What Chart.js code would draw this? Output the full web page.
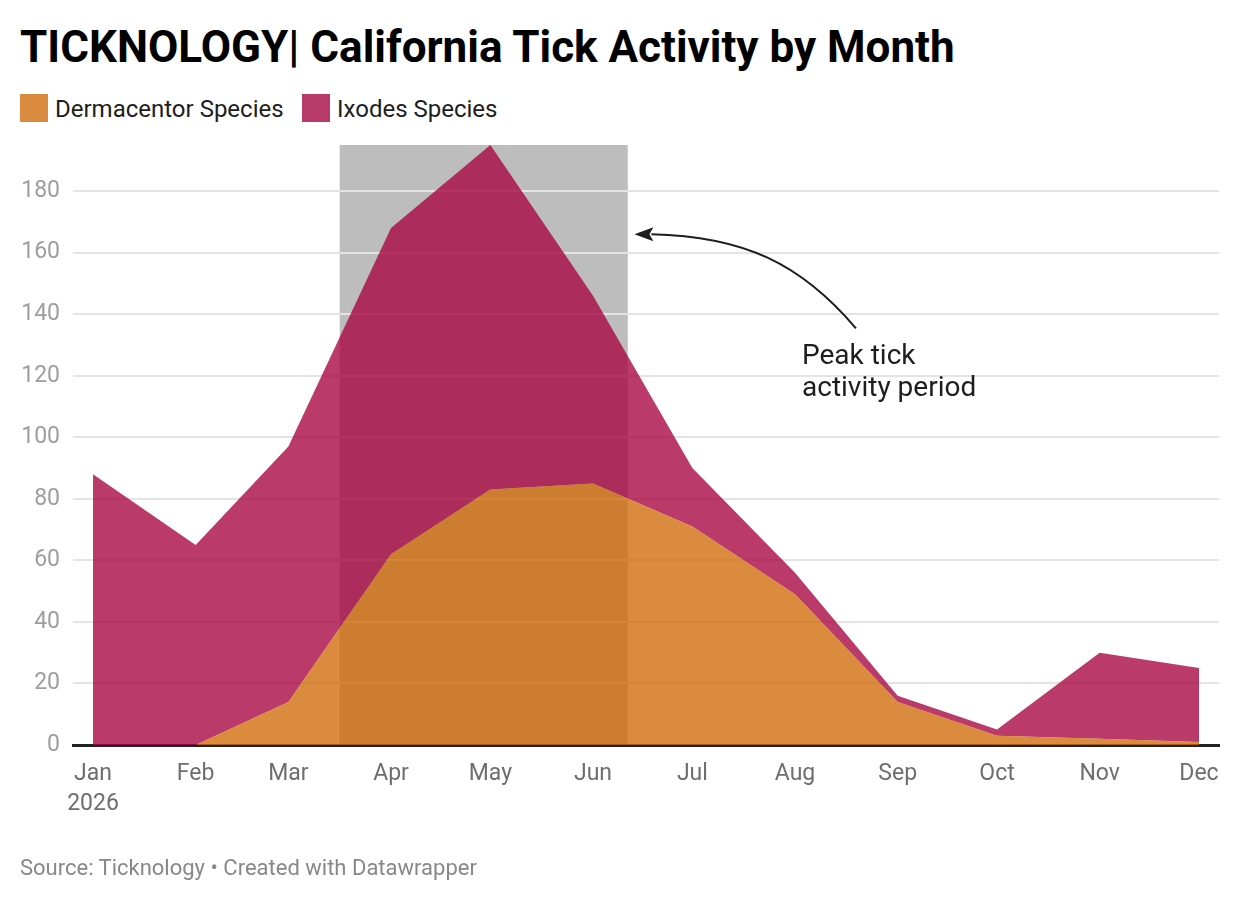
<!DOCTYPE html>
<html>
<head>
<meta charset="utf-8">
<script src="https://cdn.jsdelivr.net/npm/chart.js@4.4.1/dist/chart.umd.min.js"></script>
<style>
  html, body { margin: 0; padding: 0; background: #fff; }
  body { width: 1240px; height: 902px; position: relative; overflow: hidden; font-family: Roboto, "Noto Sans", sans-serif; }
  #c { position: absolute; left: 0; top: 0; }
  .t { position: absolute; white-space: nowrap; line-height: 1; }
  #title { left: 20px; top: 24.5px; font-size: 44px; font-weight: 700; color: #000; }
  .sw { position: absolute; width: 28px; height: 28px; top: 94px; }
  .lg { top: 97px; font-size: 24px; color: #1d1d1d; }
  #note { left: 802px; top: 338.5px; font-size: 28px; line-height: 32px; color: #1d1d1d; }
  #src { left: 20px; top: 857px; font-size: 22px; color: #888; }
</style>
</head>
<body>
<div id="title" class="t">TICKNOLOGY| California Tick Activity by Month</div>
<div class="sw" style="left:20px;background:#db8b3d"></div>
<div class="t lg" style="left:55px">Dermacentor Species</div>
<div class="sw" style="left:302px;background:#b83b6a"></div>
<div class="t lg" style="left:337px">Ixodes Species</div>
<canvas id="c" width="1240" height="902"></canvas>
<div id="note" class="t">Peak tick<br>activity period</div>
<div id="src" class="t">Source: Ticknology • Created with Datawrapper</div>
<script>
// ---- data ----
const monthLabels = ['Jan','Feb','Mar','Apr','May','Jun','Jul','Aug','Sep','Oct','Nov','Dec'];
const yearLabel = '2026';
const monthDays = [0, 31, 59, 90, 120, 151, 181, 212, 243, 273, 304, 334]; // day of year of each 1st
const dermacentor = [0, 0, 14, 62, 83, 85, 71, 49, 14, 3, 2, 1];
const ixodes = [88, 65, 83, 106, 112, 61, 19, 7, 2, 2, 28, 24]; // stacked on top of Dermacentor
const yTicks = [0, 20, 40, 60, 80, 100, 120, 140, 160, 180];
const yMax = 195;
const highlightRange = [74.5, 161.5]; // ~Mar 16 – Jun 11
const noteArrow = { tail: [230.4, 135.4], tip: [163.5, 166] };

const pts = (arr) => arr.map((v, i) => ({ x: monthDays[i], y: v }));

const highlightPlugin = {
  id: 'highlight',
  beforeDraw(chart) {
    const { ctx, chartArea, scales } = chart;
    const x0 = scales.x.getPixelForValue(highlightRange[0]);
    const x1 = scales.x.getPixelForValue(highlightRange[1]);
    const yTop = scales.y.getPixelForValue(yMax);
    ctx.save();
    ctx.fillStyle = '#bdbdbd';
    ctx.fillRect(x0, yTop, x1 - x0, chartArea.bottom - yTop);
    ctx.restore();
  },
  afterDraw(chart) {
    const { ctx, scales } = chart;
    const tx = scales.x.getPixelForValue(noteArrow.tail[0]);
    const ty = scales.y.getPixelForValue(noteArrow.tail[1]);
    const hx = scales.x.getPixelForValue(noteArrow.tip[0]);
    const hy = scales.y.getPixelForValue(noteArrow.tip[1]);
    const headLen = 19, headHalf = 7;
    const bx = hx + headLen;
    ctx.save();
    ctx.strokeStyle = '#1d1d1d';
    ctx.fillStyle = '#1d1d1d';
    ctx.lineWidth = 2;
    ctx.beginPath();
    ctx.moveTo(tx, ty);
    ctx.bezierCurveTo(tx - 55, ty - 65, bx + 90, hy + 2, bx - 2, hy);
    ctx.stroke();
    ctx.beginPath();
    ctx.moveTo(hx, hy);
    ctx.lineTo(bx, hy - headHalf);
    ctx.lineTo(bx - 4, hy);
    ctx.lineTo(bx, hy + headHalf);
    ctx.closePath();
    ctx.fill();
    ctx.restore();
  }
};

new Chart(document.getElementById('c'), {
  type: 'line',
  data: {
    datasets: [
      {
        label: 'Dermacentor Species',
        data: pts(dermacentor),
        backgroundColor: 'rgba(209,106,6,0.78)',
        borderWidth: 0,
        pointRadius: 0,
        fill: 'origin',
        tension: 0
      },
      {
        label: 'Ixodes Species',
        data: pts(ixodes),
        backgroundColor: 'rgba(166,4,64,0.78)',
        borderWidth: 0,
        pointRadius: 0,
        fill: '-1',
        tension: 0
      }
    ]
  },
  options: {
    responsive: false,
    animation: false,
    devicePixelRatio: 1,
    layout: { padding: { left: 0, right: 21, top: 145, bottom: 0 } },
    plugins: { legend: { display: false }, tooltip: { enabled: false } },
    scales: {
      x: {
        type: 'linear',
        min: -6.04,
        max: 340.04,
        z: 1,
        afterBuildTicks(scale) { scale.ticks = monthDays.map(v => ({ value: v })); },
        afterFit(scale) { scale.height = 157; },
        grid: { display: false, drawTicks: false },
        border: { display: true, color: '#222', width: 3 },
        ticks: {
          autoSkip: false,
          maxRotation: 0,
          padding: 14,
          color: '#6e6e6e',
          font: { family: 'Roboto', size: 23, lineHeight: 1.3 },
          callback(value) {
            const i = monthDays.indexOf(value);
            if (i < 0) return '';
            return i === 0 ? [monthLabels[i], yearLabel] : monthLabels[i];
          }
        }
      },
      y: {
        stacked: true,
        min: 0,
        max: yMax,
        afterBuildTicks(scale) { scale.ticks = yTicks.map(v => ({ value: v })); },
        afterFit(scale) { scale.width = 73; },
        grid: { color: '#e4e4e4', lineWidth: 2, drawTicks: false },
        border: { display: false },
        ticks: {
          padding: 13,
          color: '#9e9e9e',
          font: { family: 'Roboto', size: 23 }
        }
      }
    }
  },
  plugins: [highlightPlugin]
});
</script>
</body>
</html>
